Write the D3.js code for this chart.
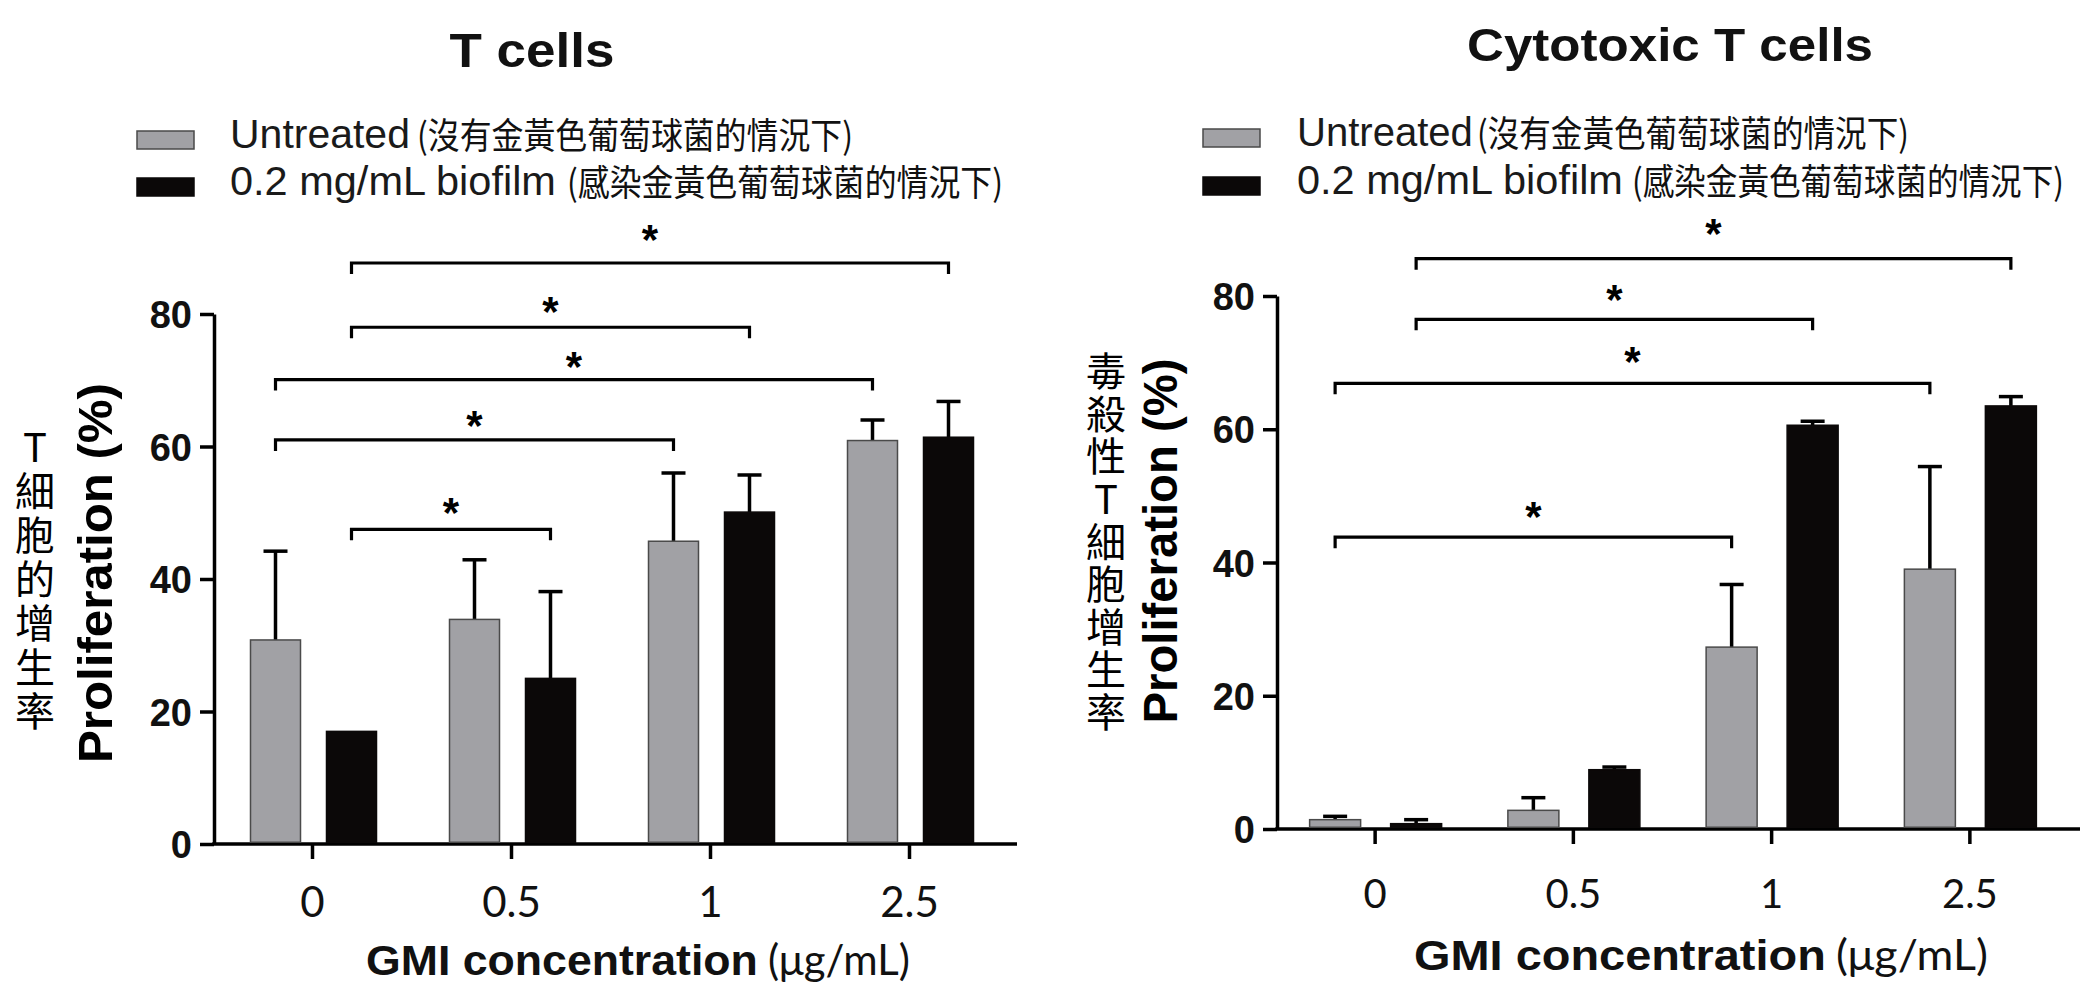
<!DOCTYPE html>
<html><head><meta charset="utf-8">
<script src="https://cdn.jsdelivr.net/npm/d3@7"></script>
<style>body{margin:0;background:#fff} svg{display:block}
.vlabel{writing-mode:vertical-rl;text-orientation:upright;}
</style>
</head><body>
<svg id="chart" width="2080" height="1000"></svg>
<script>
// ---------- data ----------
const categories = ["0", "0.5", "1", "2.5"];
const seriesNames = ["Untreated", "0.2 mg/mL biofilm"];
const seriesNotes = ["(沒有金黃色葡萄球菌的情況下)", "(感染金黃色葡萄球菌的情況下)"];
const yTicks = [0, 20, 40, 60, 80];

// T cells
const tUntreated    = [30.8, 33.9, 45.7, 60.9];
const tUntreatedErr = [44.2, 42.9, 56.0, 64.0];
const tBiofilm      = [17.0, 25.0, 50.1, 61.4];
const tBiofilmErr   = [null, 38.1, 55.7, 66.8];

// Cytotoxic T cells
const cUntreated    = [1.4, 2.8, 27.3, 39.0];
const cUntreatedErr = [1.9, 4.7, 36.7, 54.4];
const cBiofilm      = [0.8, 8.9, 60.6, 63.5];
const cBiofilmErr   = [1.4, 9.3, 61.2, 64.9];

// significance brackets: [fromCategory, fromSeries, toCategory, toSeries, bracketLevel, starLevel]
const tBrackets = [
  ["0", 1, "2.5", 1, 87.7, 92.7],
  ["0", 1, "1",   1, 78.0, 81.8],
  ["0", 0, "2.5", 0, 70.1, 73.5],
  ["0", 0, "1",   0, 61.0, 64.6],
  ["0", 1, "0.5", 1, 47.5, 51.5]
];
const cBrackets = [
  ["0", 1, "2.5", 1, 85.6, 90.8],
  ["0", 1, "1",   1, 76.5, 80.9],
  ["0", 0, "2.5", 0, 66.9, 71.6],
  ["0", 0, "1",   0, 43.8, 48.3]
];

// ---------- styles ----------
const fills = ["#a1a1a5", "#0b0808"];
const strokes = ["#4a4a4a", "#0b0808"];
const SANS = "Liberation Sans, Arial, sans-serif";
const svg = d3.select("#chart");

// text horizontally scaled to a given rendered width
function fitted(parent, str, x, y, len, opts) {
  const t = parent.append("text").text(str)
    .attr("text-anchor", opts.anchor || "start")
    .attr("font-family", opts.family).attr("font-size", opts.size)
    .attr("font-weight", opts.weight || "normal")
    .attr("fill", opts.fill || "#111");
  const w = t.node().getComputedTextLength();
  const k = len / w;
  t.attr("transform", `translate(${x},${y})${opts.rotate ? " rotate(" + opts.rotate + ")" : ""} scale(${k},1)`);
  return t;
}

function drawPanel(cfg, d) {
  const g = svg.append("g");
  const x = d3.scaleBand().domain(categories).range(cfg.bandRange);
  const xs = d3.scalePoint().domain([0, 1]).range(cfg.inner);
  const y = d3.scaleLinear().domain([0, 80]).range([cfg.y0, cfg.y80]);
  const cx = (c, s) => x(c) + x.bandwidth() / 2 + xs(s);

  // title
  fitted(g, cfg.title, cfg.titleX, cfg.titleY, cfg.titleLen,
    { anchor: "middle", family: SANS, weight: "bold", size: cfg.titleSize, fill: "#111" });

  // legend
  seriesNames.forEach((name, i) => {
    const base = cfg.legendBase[i];
    g.append("rect").attr("x", cfg.legendX).attr("y", base - 17)
      .attr("width", 57).attr("height", 18)
      .attr("fill", fills[i]).attr("stroke", strokes[i]).attr("stroke-width", 1.5);
    fitted(g, name, cfg.legendTextX, base, cfg.nameLen[i],
      { family: SANS, size: 40, fill: "#1a1a1a" });
    fitted(g, seriesNotes[i], cfg.noteX[i], base + 1, cfg.noteLen,
      { family: "Noto Sans CJK TC", size: 36, fill: "#111" });
  });

  // y axis
  const yAxis = g.append("g").attr("transform", `translate(${cfg.axisX},0)`)
    .call(d3.axisLeft(y).tickValues(yTicks).tickSize(14).tickSizeOuter(0).tickPadding(8));
  yAxis.select(".domain").attr("stroke", "#000").attr("stroke-width", 3.5);
  yAxis.selectAll(".tick line").attr("stroke", "#000").attr("stroke-width", 3.5);
  yAxis.selectAll(".tick text")
    .attr("font-family", SANS).attr("font-weight", "bold")
    .attr("font-size", 38).attr("dy", "0.36em").attr("fill", "#111");

  // x axis
  const xAxis = g.append("g").attr("transform", `translate(0,${cfg.y0})`)
    .call(d3.axisBottom(x).tickSize(15).tickSizeOuter(0));
  xAxis.select(".domain").remove();
  xAxis.append("line").attr("x1", cfg.axisX - 1.75).attr("x2", cfg.axisEnd)
    .attr("y1", 0).attr("y2", 0).attr("stroke", "#000").attr("stroke-width", 3.5);
  xAxis.selectAll(".tick line").attr("stroke", "#000").attr("stroke-width", 3.5);
  xAxis.selectAll(".tick text")
    .attr("dy", null).attr("y", cfg.catLabelDy)
    .attr("font-family", "Lato, Open Sans, sans-serif").attr("font-size", cfg.catSize)
    .attr("fill", "#111");

  // bars
  const rows = categories.flatMap((c, i) => [
    { c, s: 0, v: d.untreated[i], e: d.untreatedErr[i] },
    { c, s: 1, v: d.biofilm[i], e: d.biofilmErr[i] }
  ]);
  const bw = cfg.barW;
  // error bars
  g.append("g").selectAll("g").data(rows.filter(r => r.e != null)).join("g")
    .each(function (r) {
      const gg = d3.select(this);
      const xc = cx(r.c, r.s);
      gg.append("line").attr("x1", xc).attr("x2", xc)
        .attr("y1", y(r.v)).attr("y2", y(r.e))
        .attr("stroke", "#000").attr("stroke-width", 3.5);
      gg.append("line").attr("x1", xc - 12).attr("x2", xc + 12)
        .attr("y1", y(r.e)).attr("y2", y(r.e))
        .attr("stroke", "#000").attr("stroke-width", 3.5);
    });
  g.append("g").selectAll("rect").data(rows).join("rect")
    .attr("x", r => cx(r.c, r.s) - bw / 2)
    .attr("y", r => y(r.v))
    .attr("width", bw)
    .attr("height", r => y(0) - y(r.v) - 1.75)
    .attr("fill", r => fills[r.s])
    .attr("stroke", r => strokes[r.s]).attr("stroke-width", 1.5);

  // brackets
  d.brackets.forEach(([c1, s1, c2, s2, lvl, star]) => {
    const x1 = cx(c1, s1), x2 = cx(c2, s2), yl = y(lvl);
    g.append("path")
      .attr("d", `M${x1},${yl + 11}V${yl}H${x2}V${yl + 11}`)
      .attr("fill", "none").attr("stroke", "#000").attr("stroke-width", 3.2);
    g.append("text").text("*")
      .attr("x", (x1 + x2) / 2).attr("y", y(star) + 24)
      .attr("text-anchor", "middle")
      .attr("font-family", SANS).attr("font-weight", "bold")
      .attr("font-size", 42).attr("fill", "#000");
  });

  // y label (English)
  fitted(g, "Proliferation (%)", cfg.ylabX, cfg.ylabY, cfg.ylabLen,
    { anchor: "middle", family: SANS, weight: "bold", size: 48, fill: "#000", rotate: -90 });

  // y label (Chinese, vertical writing)
  g.append("text").attr("class", "vlabel").text(cfg.cjk)
    .attr("x", cfg.cjkX).attr("y", cfg.cjkY0 - 20)
    .attr("font-family", "Noto Sans CJK TC").attr("font-size", 40)
    .attr("letter-spacing", cfg.cjkStep - 40)
    .attr("fill", "#000");

  // x label
  fitted(g, "GMI concentration", cfg.xlabX, cfg.xlabBase, cfg.xlabLen,
    { family: SANS, weight: "bold", size: 42, fill: "#111" });
  fitted(g, "(μg/mL)", cfg.xlabX + cfg.xlabLen + 10, cfg.xlabBase, cfg.unitLen,
    { family: "Lato, Open Sans, sans-serif", size: 42, fill: "#111" });
}

drawPanel({
  title: "T cells", titleX: 532, titleY: 67, titleSize: 48, titleLen: 165,
  legendX: 137, legendTextX: 230, legendBase: [148, 195], nameLen: [180, 326], noteX: [417, 567], noteLen: 436,
  axisX: 214, axisEnd: 1017, bandRange: [213, 1009], inner: [-37, 39], barW: 50,
  y0: 844, y80: 314, catLabelDy: 73, catSize: 42,
  ylabX: 112, ylabY: 573, ylabLen: 380,
  cjk: "T細胞的增生率", cjkX: 35, cjkY0: 447, cjkStep: 44,
  xlabX: 366, xlabBase: 975, xlabLen: 392, unitLen: 142
}, { untreated: tUntreated, untreatedErr: tUntreatedErr, biofilm: tBiofilm, biofilmErr: tBiofilmErr, brackets: tBrackets });

drawPanel({
  title: "Cytotoxic T cells", titleX: 1670, titleY: 61, titleSize: 46, titleLen: 406,
  legendX: 1203, legendTextX: 1297, legendBase: [146, 194], nameLen: [176, 326], noteX: [1477, 1632], noteLen: 432,
  axisX: 1277, axisEnd: 2080, bandRange: [1276, 2069], inner: [-40, 41], barW: 51,
  y0: 829, y80: 296, catLabelDy: 79, catSize: 40,
  ylabX: 1177, ylabY: 541, ylabLen: 365,
  cjk: "毒殺性T細胞增生率", cjkX: 1106, cjkY0: 371, cjkStep: 42.6,
  xlabX: 1414, xlabBase: 970, xlabLen: 412, unitLen: 152
}, { untreated: cUntreated, untreatedErr: cUntreatedErr, biofilm: cBiofilm, biofilmErr: cBiofilmErr, brackets: cBrackets });
</script>
</body></html>
